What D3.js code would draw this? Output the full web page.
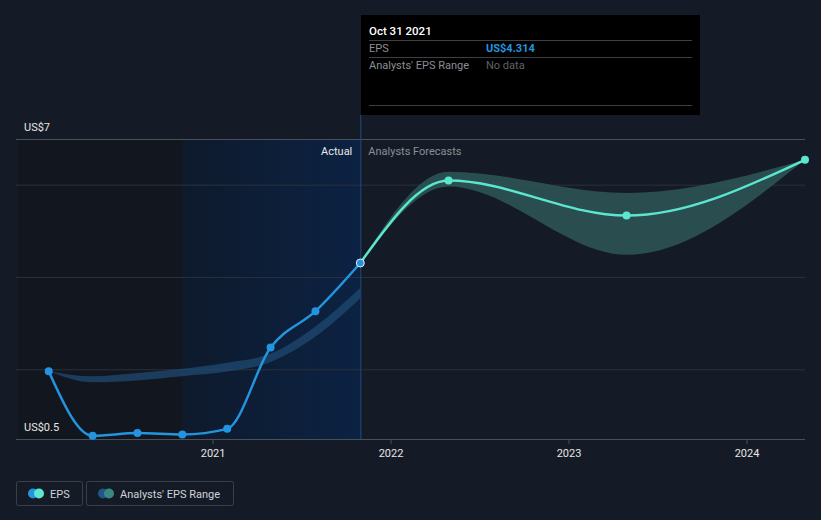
<!DOCTYPE html>
<html>
<head>
<meta charset="utf-8">
<script src="https://cdn.jsdelivr.net/npm/d3@7"></script>
<style>
  body { margin: 0; background: #151b26; font-family: Roboto, "Open Sans", sans-serif; }
  svg { display: block; }
</style>
</head>
<body>
<svg id="chart"></svg>
<script>
const width = 821;
const height = 520;

// actual EPS (fiscal quarter ends)
const actualDates = ['2020-01-31', '2020-04-30', '2020-07-31', '2020-10-31', '2021-01-31', '2021-04-30', '2021-07-31', '2021-10-31'];
const actualEps = [1.97, 0.57, 0.63, 0.60, 0.72, 2.48, 3.27, 4.314];

// past analysts range band
const pastRangeLow = [1.97, 1.73, 1.77, 1.86, 1.96, 2.17, 2.72, 3.55];
const pastRangeHigh = [1.97, 1.86, 1.93, 2.02, 2.15, 2.35, 2.94, 3.77];

// forecasts
const forecastDates = ['2021-10-31', '2022-04-30', '2023-04-30', '2024-04-30'];
const forecastEps = [4.314, 6.10, 5.34, 6.55];
const forecastLow = [4.314, 5.97, 4.49, 6.55];
const forecastHigh = [4.314, 6.29, 5.83, 6.55];

const yGrid = [2, 4, 6];
const xTicks = ['2021-01-01', '2022-01-01', '2023-01-01', '2024-01-01'];

const parse = d3.timeParse('%Y-%m-%d');
const svg = d3.select('#chart').attr('width', width).attr('height', height);

const x = d3.scaleTime()
  .domain([parse('2019-11-29'), parse('2024-04-30')])
  .range([18, 805]);
const y = d3.scaleLinear().domain([0.5, 7]).range([439, 139]);

const actual = actualDates.map((d, i) => ({ date: parse(d), v: actualEps[i], lo: pastRangeLow[i], hi: pastRangeHigh[i] }));
const forecast = forecastDates.map((d, i) => ({ date: parse(d), v: forecastEps[i], lo: forecastLow[i], hi: forecastHigh[i] }));

const nowDate = parse('2021-10-31');
const yearAgo = parse('2020-10-31');

// background zones
const defs = svg.append('defs');
const grad = defs.append('linearGradient').attr('id', 'pastGrad');
grad.append('stop').attr('offset', '0%').attr('stop-color', '#0e1a2c');
grad.append('stop').attr('offset', '100%').attr('stop-color', '#0c2243');

svg.append('rect')
  .attr('x', 18).attr('y', y(7))
  .attr('width', x(yearAgo) - 18).attr('height', y(0.5) - y(7))
  .attr('fill', '#12161e');

svg.append('rect')
  .attr('x', x(yearAgo)).attr('y', y(7))
  .attr('width', x(nowDate) - x(yearAgo)).attr('height', y(0.5) - y(7))
  .attr('fill', 'url(#pastGrad)');

// grid
svg.append('g').selectAll('line').data(yGrid).enter().append('line')
  .attr('x1', 16).attr('x2', 805)
  .attr('y1', d => y(d)).attr('y2', d => y(d))
  .attr('stroke', '#2b313b').attr('stroke-width', 1);

svg.append('line')
  .attr('x1', 16).attr('x2', 805).attr('y1', y(7) + 0.5).attr('y2', y(7) + 0.5)
  .attr('stroke', '#4a505a');

// x axis
const xAxis = d3.axisBottom(x)
  .tickValues(xTicks.map(parse))
  .tickFormat(d3.timeFormat('%Y'))
  .tickSize(5)
  .tickSizeOuter(0);
const gx = svg.append('g')
  .attr('transform', 'translate(0,' + y(0.5) + ')')
  .call(xAxis);
gx.select('.domain').attr('stroke', '#4a505a').attr('d', 'M16,0.5H805');
gx.selectAll('.tick line').attr('stroke', '#4a505a');
gx.selectAll('.tick text').attr('fill', '#e6e6e6').attr('font-size', '11px').attr('dy', '0.9em')
  .attr('font-family', 'Roboto, sans-serif');

// y labels
svg.append('text').attr('x', 24).attr('y', 131).text('US$7')
  .attr('fill', '#e6e6e6').attr('font-size', '11px');
svg.append('text').attr('x', 24).attr('y', 431).text('US$0.5')
  .attr('fill', '#e6e6e6').attr('font-size', '11px');

// now line
svg.append('line')
  .attr('x1', x(nowDate) + 0.5).attr('x2', x(nowDate) + 0.5)
  .attr('y1', 115).attr('y2', y(0.5))
  .attr('stroke', '#1e4b85').attr('stroke-width', 1);

svg.append('text').attr('x', x(nowDate) - 8).attr('y', 155).attr('text-anchor', 'end')
  .text('Actual').attr('fill', '#e8e8e8').attr('font-size', '11px');
svg.append('text').attr('x', x(nowDate) + 8).attr('y', 155)
  .text('Analysts Forecasts').attr('fill', '#8a8f96').attr('font-size', '11px');

// bands
const band = d3.area()
  .x(d => x(d.date)).y0(d => y(d.lo)).y1(d => y(d.hi))
  .curve(d3.curveMonotoneX);

svg.append('path').datum(actual).attr('d', band)
  .attr('fill', '#1f4a72').attr('opacity', 0.75);

svg.append('path').datum(forecast).attr('d', band)
  .attr('fill', '#2f5a5a').attr('opacity', 0.8);

// lines
const line = d3.line().x(d => x(d.date)).y(d => y(d.v)).curve(d3.curveMonotoneX);

svg.append('path').datum(forecast).attr('d', line)
  .attr('fill', 'none').attr('stroke', '#5ce6cf').attr('stroke-width', 2.5);

svg.append('path').datum(actual).attr('d', line)
  .attr('fill', 'none').attr('stroke', '#2394df').attr('stroke-width', 2.5);

svg.append('g').selectAll('circle').data(forecast.slice(1)).enter().append('circle')
  .attr('cx', d => x(d.date)).attr('cy', d => y(d.v)).attr('r', 4)
  .attr('fill', '#5ce6cf');

svg.append('g').selectAll('circle').data(actual.slice(0, -1)).enter().append('circle')
  .attr('cx', d => x(d.date)).attr('cy', d => y(d.v)).attr('r', 4)
  .attr('fill', '#2394df');

const last = actual[actual.length - 1];
svg.append('circle').attr('cx', x(last.date)).attr('cy', y(last.v)).attr('r', 4)
  .attr('fill', '#2394df').attr('stroke', '#e8eef5').attr('stroke-width', 1);

// tooltip
const tip = svg.append('g').attr('transform', 'translate(361,15)');
tip.append('rect').attr('width', 339).attr('height', 100).attr('fill', '#000');
[25.5, 42.5, 90.5].forEach(yy => {
  tip.append('line').attr('x1', 8).attr('x2', 331).attr('y1', yy).attr('y2', yy)
    .attr('stroke', '#3c3f44');
});
tip.append('text').attr('x', 8).attr('y', 20).text('Oct 31 2021')
  .attr('fill', '#ffffff').attr('font-size', '11.5px').attr('font-weight', 500);
tip.append('text').attr('x', 8).attr('y', 37).text('EPS')
  .attr('fill', '#8c8f94').attr('font-size', '11px');
tip.append('text').attr('x', 125).attr('y', 37).text('US$4.314')
  .attr('fill', '#2394df').attr('font-size', '11px').attr('font-weight', 'bold');
tip.append('text').attr('x', 8).attr('y', 54).text("Analysts' EPS Range")
  .attr('fill', '#8c8f94').attr('font-size', '11px');
tip.append('text').attr('x', 125).attr('y', 54).text('No data')
  .attr('fill', '#5f6268').attr('font-size', '11px');

// legend
const legendItems = [
  { label: 'EPS', x: 16, w: 66, c1: '#2394df', c2: '#5ce6cf' },
  { label: "Analysts' EPS Range", x: 86, w: 147, c1: '#1f5687', c2: '#3b8783' }
];
const lg = svg.append('g').selectAll('g').data(legendItems).enter().append('g')
  .attr('transform', d => 'translate(' + d.x + ',481)');
lg.append('rect').attr('x', 0.5).attr('y', 0.5).attr('width', d => d.w).attr('height', 24)
  .attr('rx', 2).attr('fill', 'none').attr('stroke', '#3a3f49');
lg.append('circle').attr('cx', 17).attr('cy', 12.5).attr('r', 5).attr('fill', d => d.c1);
lg.append('circle').attr('cx', 23).attr('cy', 12.5).attr('r', 5).attr('fill', d => d.c2);
lg.append('text').attr('x', 34).attr('y', 16.5).text(d => d.label)
  .attr('fill', '#d0d3d8').attr('font-size', '11px');
</script>
</body>
</html>
